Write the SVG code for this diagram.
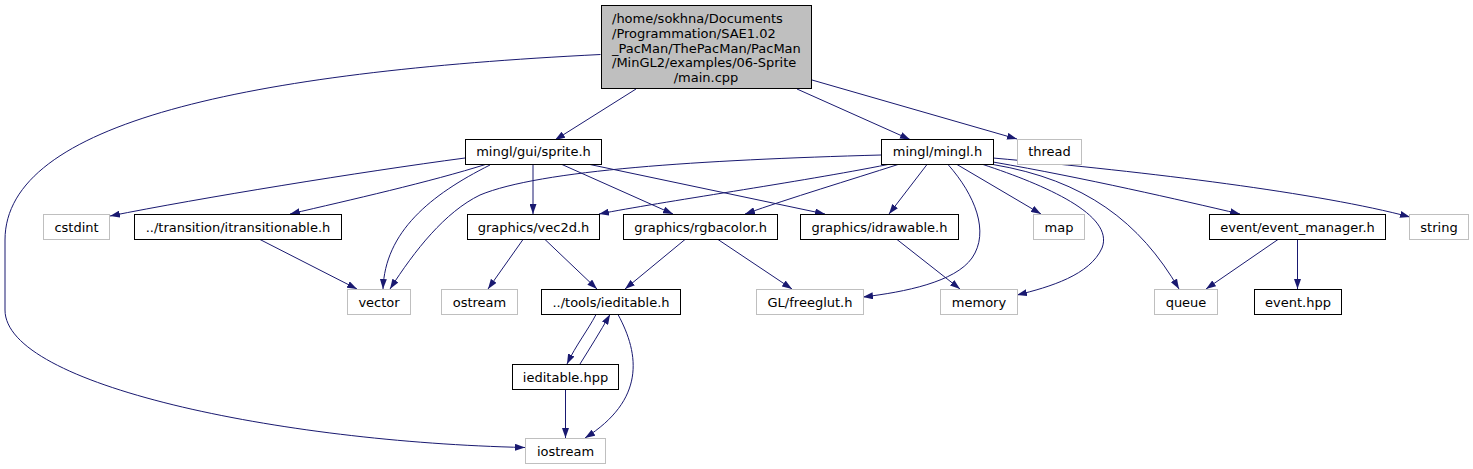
<svg xmlns="http://www.w3.org/2000/svg" width="1473" height="469" viewBox="0 0 1473 469">
<style>
text{font-family:"DejaVu Sans","Liberation Sans",sans-serif;font-size:13px;fill:#000;text-anchor:middle}
.n rect{fill:#fff;stroke:#000;stroke-width:1}
.g rect{fill:#fff;stroke:#bfbfbf;stroke-width:1}
.m rect{fill:#bfbfbf;stroke:#000;stroke-width:1}
#edges path{fill:none;stroke:#191970;stroke-width:1;marker-end:url(#a)}
</style>
<defs>
<marker id="a" viewBox="0 0 10 7" refX="10" refY="3.5" markerWidth="10" markerHeight="7" markerUnits="userSpaceOnUse" orient="auto">
<path d="M0,0 L10,3.5 L0,7 z" fill="#191970"/>
</marker>
</defs>
<rect width="1473" height="469" fill="#fff"/>
<g id="edges">
<path d="M600.5,54.5 C250,72 5,122 5,240 L5,310 C5,385 280,442 525,447.5"/>
<path d="M636,89 L555,140"/>
<path d="M797,89 L910,139.5"/>
<path d="M812,80 L1017,139"/>
<path d="M465,158 C360,172 200,198 110,216"/>
<path d="M487,164 C430,182 350,200 290,214"/>
<path d="M490,165 C430,195 385,232 383,289"/>
<path d="M881,155 C700,160 540,170 480,195 C445,212 415,250 390,289"/>
<path d="M533,164.5 L533,214"/>
<path d="M562,164.5 L673,214"/>
<path d="M590,164.5 L825,214"/>
<path d="M888,164.5 C800,182 660,202 599,214"/>
<path d="M898,164.5 C850,180 790,198 745,214"/>
<path d="M927,164.5 L889,214"/>
<path d="M948,164.5 C975,195 990,232 972,258 C955,282 905,292 863,297"/>
<path d="M957,164.5 L1041,214"/>
<path d="M983,164.5 C1045,185 1115,215 1102,248 C1090,275 1050,287 1017,295"/>
<path d="M993,164.5 C1085,180 1140,222 1179,289"/>
<path d="M993,162 C1085,178 1180,200 1240,214"/>
<path d="M993,158 C1150,172 1320,193 1410,217"/>
<path d="M523,239.5 L488,289"/>
<path d="M545,239.5 L597,289"/>
<path d="M685,239.5 L625,289"/>
<path d="M718,239.5 L792,289"/>
<path d="M897,239.5 L960,289"/>
<path d="M260,239.5 L357,289"/>
<path d="M1278,239.5 L1206,289"/>
<path d="M1297.5,239.5 L1297.5,289"/>
<path d="M596,314.5 C588,330 576,345 567,364"/>
<path d="M580,364 C590,348 600,332 610,314.5"/>
<path d="M618,314.5 C640,355 645,400 585,438"/>
<path d="M565.5,389.5 L565.5,438"/>
</g>
<g id="main" class="m"><rect x="601.5" y="5.5" width="210" height="83"/>
<text x="612" y="23" style="text-anchor:start">/home/sokhna/Documents</text>
<text x="612" y="38" style="text-anchor:start">/Programmation/SAE1.02</text>
<text x="612" y="52.5" style="text-anchor:start">_PacMan/ThePacMan/PacMan</text>
<text x="612" y="67" style="text-anchor:start">/MinGL2/examples/06-Sprite</text>
<text x="706" y="82">/main.cpp</text></g>
<g id="sprite" class="n"><rect x="465.5" y="139.5" width="136" height="25"/><text x="533.5" y="155.5">mingl/gui/sprite.h</text></g>
<g id="mingl" class="n"><rect x="881.5" y="139.5" width="112" height="25"/><text x="937.5" y="155.5">mingl/mingl.h</text></g>
<g id="thread" class="g"><rect x="1017.5" y="139.5" width="64" height="25"/><text x="1049.5" y="155.5">thread</text></g>
<g id="cstdint" class="g"><rect x="43.5" y="214.5" width="66" height="25"/><text x="76.5" y="231.5">cstdint</text></g>
<g id="itrans" class="n"><rect x="134.5" y="214.5" width="207" height="25"/><text x="238" y="231.5">../transition/itransitionable.h</text></g>
<g id="vec2d" class="n"><rect x="467.5" y="214.5" width="132" height="25"/><text x="533.5" y="231.5">graphics/vec2d.h</text></g>
<g id="rgba" class="n"><rect x="623.5" y="214.5" width="154" height="25"/><text x="700.5" y="231.5">graphics/rgbacolor.h</text></g>
<g id="idrawable" class="n"><rect x="800.5" y="214.5" width="158" height="25"/><text x="879.5" y="231.5">graphics/idrawable.h</text></g>
<g id="map" class="g"><rect x="1033.5" y="214.5" width="51" height="25"/><text x="1059" y="231.5">map</text></g>
<g id="evmgr" class="n"><rect x="1209.5" y="214.5" width="176" height="25"/><text x="1297.5" y="231.5">event/event_manager.h</text></g>
<g id="string" class="g"><rect x="1409.5" y="214.5" width="59" height="25"/><text x="1439" y="231.5">string</text></g>
<g id="vector" class="g"><rect x="347.5" y="289.5" width="63" height="25"/><text x="379" y="306.5">vector</text></g>
<g id="ostream" class="g"><rect x="441.5" y="289.5" width="76" height="25"/><text x="479.5" y="306.5">ostream</text></g>
<g id="ieditableh" class="n"><rect x="541.5" y="289.5" width="139" height="25"/><text x="611" y="306.5">../tools/ieditable.h</text></g>
<g id="freeglut" class="g"><rect x="756.5" y="289.5" width="107" height="25"/><text x="810" y="306.5">GL/freeglut.h</text></g>
<g id="memory" class="g"><rect x="940.5" y="289.5" width="77" height="25"/><text x="979" y="306.5">memory</text></g>
<g id="queue" class="g"><rect x="1154.5" y="289.5" width="63" height="25"/><text x="1186" y="306.5">queue</text></g>
<g id="eventhpp" class="n"><rect x="1254.5" y="289.5" width="87" height="25"/><text x="1298" y="306.5">event.hpp</text></g>
<g id="ieditablehpp" class="n"><rect x="512.5" y="364.5" width="106" height="25"/><text x="565.5" y="381.5">ieditable.hpp</text></g>
<g id="iostream" class="g"><rect x="525.5" y="438.5" width="80" height="25"/><text x="565.5" y="455.5">iostream</text></g>
</svg>
